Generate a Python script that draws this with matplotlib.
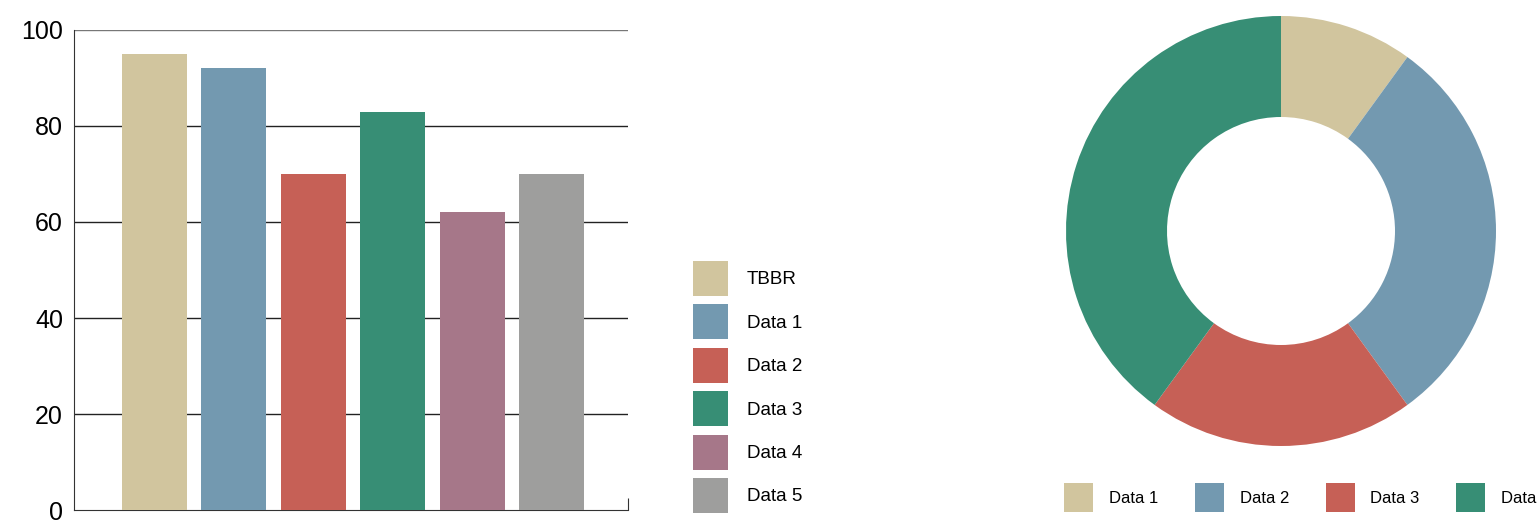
import matplotlib
matplotlib.use("Agg")
import matplotlib.pyplot as plt
from matplotlib.patches import Patch

plt.rcParams['font.family'] = ['Liberation Sans', 'DejaVu Sans']

# Bar chart data
bar_labels = ['TBBR', 'Data 1', 'Data 2', 'Data 3', 'Data 4', 'Data 5']
bar_values = [95, 92, 70, 83, 62, 70]
bar_colors = ['#D1C59E', '#7399B0', '#C66056', '#378E75', '#A67789', '#9E9E9D']

# Donut chart data
pie_labels = ['Data 1', 'Data 2', 'Data 3', 'Data 4']
pie_values = [10, 30, 20, 40]
pie_colors = ['#D1C59E', '#7399B0', '#C66056', '#378E75']

W, H = 1538, 520
fig = plt.figure(figsize=(W / 100, H / 100), dpi=100)

# --- bars ---
ax = fig.add_axes([74 / W, 10 / H, 554 / W, 480 / H])
pos = list(range(len(bar_values)))
ax.bar(pos, bar_values, width=0.82, color=bar_colors, zorder=3)
ax.set_xlim(-1.014, 5.963)
ax.set_ylim(0, 100)
ax.set_yticks([0, 20, 40, 60, 80, 100])
for v in [20, 40, 60, 80]:
    ax.axhline(v, color='#222222', lw=1, zorder=1)
ax.axhline(100, color='#777777', lw=1, zorder=1)
ax.spines['top'].set_visible(False)
ax.spines['right'].set_visible(False)
ax.spines['left'].set_color('#333333')
ax.spines['bottom'].set_color('#333333')
ax.tick_params(axis='y', length=0, pad=8, labelsize=18)
ax.set_xticks([5.963])
ax.set_xticklabels([''])
ax.tick_params(axis='x', direction='in', length=9, color='#333333')


def box_height(px, fs_pt):
    # legend handleheight that gives a square of px pixels at font size fs_pt
    fs = fs_pt * 100 / 72
    return (px / fs - 0.245) / 0.65


fs1 = 13.5
handles = [Patch(facecolor=c, edgecolor='none', label=l) for c, l in zip(bar_colors, bar_labels)]
fig.legend(handles=handles, loc='upper left', bbox_to_anchor=(693 / W, 1 - 261 / H),
           frameon=False, fontsize=fs1, handlelength=35 / (fs1 * 100 / 72),
           handleheight=box_height(35, fs1),
           labelspacing=0.45, handletextpad=1.0, borderpad=0, borderaxespad=0)

# --- donut ---
R = 215
ax2 = fig.add_axes([(1281 - R) / W, (H - 231 - R) / H, 2 * R / W, 2 * R / H])
ax2.pie(pie_values, colors=pie_colors, startangle=90, counterclock=False,
        radius=1, wedgeprops=dict(width=(R - 114) / R, edgecolor='none'))
ax2.set_xlim(-1, 1)
ax2.set_ylim(-1, 1)
ax2.set_aspect('equal')
ax2.axis('off')

fs2 = 12
handles2 = [Patch(facecolor=c, edgecolor='none', label=l) for c, l in zip(pie_colors, pie_labels)]
fig.legend(handles=handles2, loc='upper left', bbox_to_anchor=(1064 / W, 1 - 483 / H),
           ncol=4, frameon=False, fontsize=fs2, handlelength=29 / (fs2 * 100 / 72),
           handleheight=box_height(29, fs2),
           handletextpad=0.95, columnspacing=2.2, borderpad=0, borderaxespad=0)

fig.savefig('out.png', dpi=100)
